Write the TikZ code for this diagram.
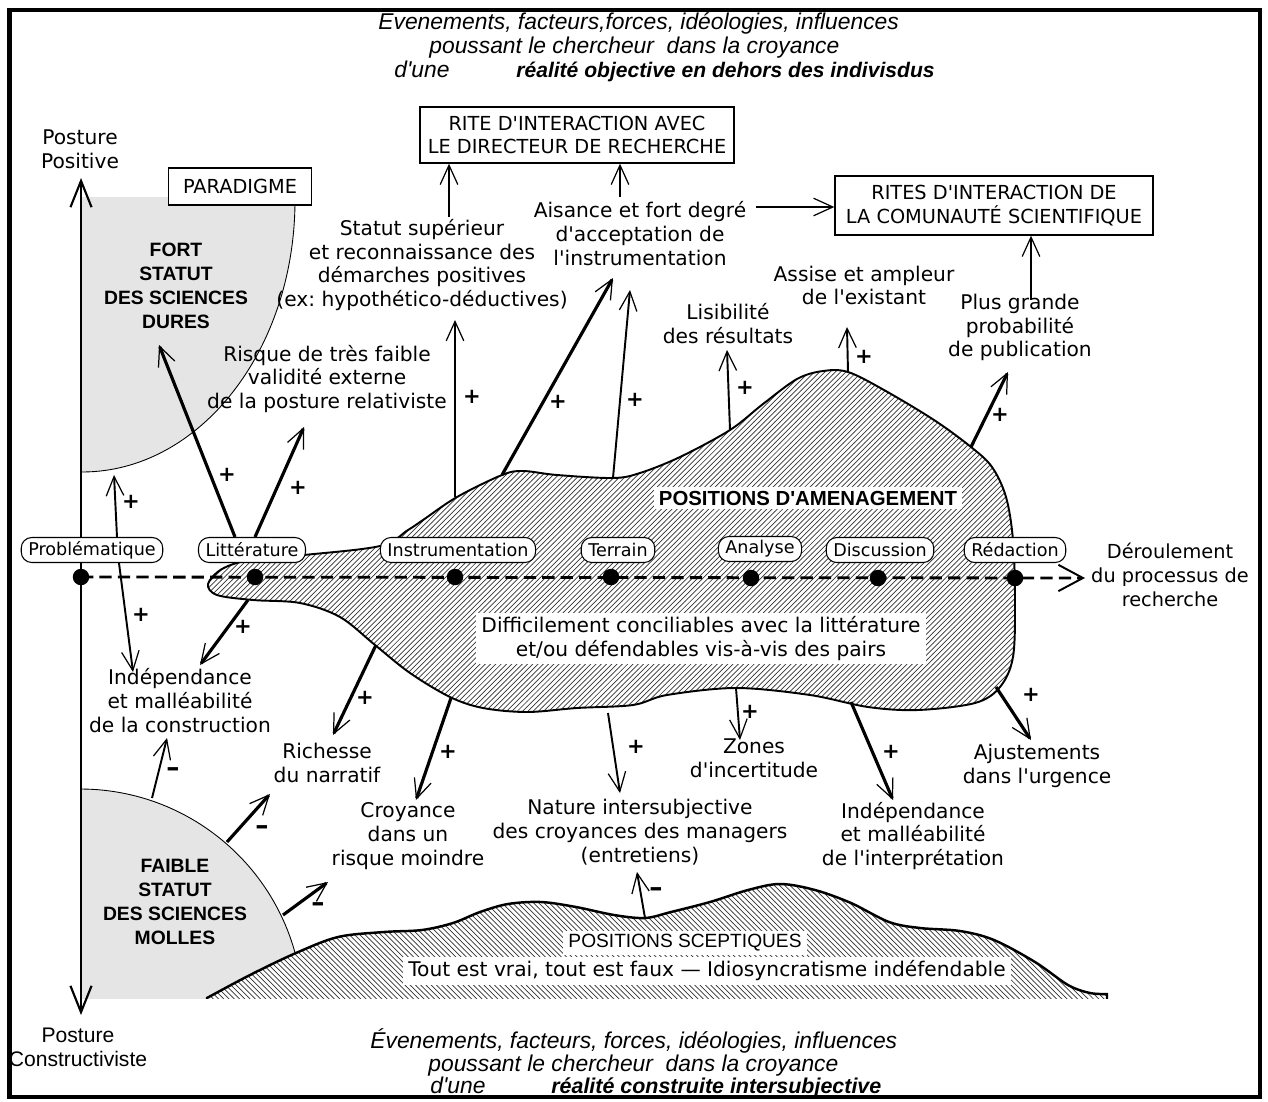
\documentclass[tikz,border=0pt]{standalone}
\usepackage{fontspec}
\setmainfont{DejaVu Sans}[Ligatures=TeXOff]
\newfontfamily\libsans{Liberation Sans}
\usepackage{tikz}
\usetikzlibrary{positioning,arrows.meta,patterns,calc}
\definecolor{gris}{gray}{0.9}
\tikzset{
    >={Straight Barb[length=11pt,width=10pt,line width=0.7pt]},
    txt/.style = {
        align=center,
        inner sep=0pt,
        font=\fontsize{11.5}{13.6}\selectfont
    },
    etape/.style = {
        draw,
        fill=white,
        rounded corners=6pt,
        line width=0.6pt,
        inner xsep=4pt,
        inner ysep=1pt,
        minimum height=0.5cm,
        font=\fontsize{10}{12}\selectfont
    },
    rite/.style = {
        draw,
        fill=white,
        line width=0.8pt,
        align=center,
        inner sep=0pt,
        font=\fontsize{11}{13.6}\selectfont
    },
    fond/.style = {
        fill=white,
        inner xsep=3pt,
        inner ysep=2pt
    },
    gras/.style = {
        align=center,
        inner sep=0pt,
        font=\libsans\bfseries\fontsize{11}{13.6}\selectfont
    },
    ital/.style = {
        anchor=base west,
        inner sep=0pt,
        font=\libsans\itshape\fontsize{13}{14}\selectfont
    },
    jalon/.style = {
        circle,
        fill,
        inner sep=0pt,
        minimum size=0.33cm
    },
    sgn/.style = {
        inner sep=0pt,
        font=\bfseries\fontsize{12}{12}\selectfont
    },
    moins/.style = {
        inner sep=0pt,
        font=\bfseries\fontsize{15}{15}\selectfont
    },
    fl/.style = {->, line width=1.1pt},
    flg/.style = {->, line width=1.8pt},
    axe/.style = {
        line width=1pt,
        arrows={Straight Barb[length=15pt,width=12pt,line width=1.2pt]-Straight Barb[length=15pt,width=12pt,line width=1.2pt]}
    },
    proc/.style = {
        line width=1.6pt,
        dash pattern=on 7pt off 3.5pt,
        arrows={-Straight Barb[length=14pt,width=15pt,line width=1.1pt]}
    },
}

\begin{document}
\frenchspacing
\begin{tikzpicture}[x=0.02cm, y=-0.02cm]
    \useasboundingbox (0,0) rectangle (1268,1102);

    % zones grises
    \begin{scope}
        \clip (81,197) rectangle (400,600);
        \draw[line width=0.5pt, fill=gris] (82,200) ellipse [x radius=213, y radius=272];
    \end{scope}

    % positions d'amenagement
    \draw[line width=1.1pt, pattern=north east lines, pattern color=black!80]
        plot[smooth cycle, tension=0.55] coordinates {
        (208,584) (222,569) (250,560) (304,555) (380,546) (408,530) (423,520)
        (457,497) (502,475) (523,471) (557,475) (613,478) (640,473) (680,457)
        (730,430) (763,404) (797,379) (823,371) (848,372) (884,390) (934,420)
        (971,447) (992,467) (1006,497) (1013,540) (1015,600) (1013,657)
        (1000,687) (975,703) (918,710) (868,707) (810,695) (736,688) (667,695)
        (633,705) (577,708) (527,712) (483,708) (450,697) (410,673) (375,645)
        (340,617) (300,603) (253,600) (217,595)};

    % positions sceptiques
    \begin{scope}
        \clip (81,600) rectangle (1268,998);
        \draw[line width=0.5pt, fill=gris] (80,1012) circle [radius=223];
        \draw[line width=1.4pt, preaction={fill=white}, pattern=north west lines, pattern color=black!80]
            plot[smooth, tension=0.55] coordinates {
            (207,998) (250,975) (296,953) (338,937) (384,932) (422,930) (453,923)
            (480,912) (508,904) (541,902) (576,907) (614,915) (645,918) (671,912)
            (710,902) (748,890) (780,884) (815,890) (851,903) (889,922) (920,928)
            (960,931) (994,940) (1035,962) (1068,985) (1090,993) (1107,994)}
            -- (1107,1010) -- (207,1010) -- cycle;
    \end{scope}

    % axes
    \coordinate (axh) at (81,178);
    \coordinate (axb) at (81,1015);
    \coordinate (fin) at (1085,578);
    \draw[axe] (axb) -- (axh);

    \node[jalon] (j1) at (81,577) {};
    \node[jalon] (j2) at (255,577) {};
    \node[jalon] (j3) at (455,577) {};
    \node[jalon] (j4) at (611,577) {};
    \node[jalon] (j5) at (751,578) {};
    \node[jalon] (j6) at (878,578) {};
    \node[jalon] (j7) at (1015,578) {};
    \draw[proc] (j1.center) -- (fin);

    % etapes
    \node[etape] (pb) at (92,550) {Problématique};
    \node[etape] (litt) at (252,550) {Littérature};
    \node[etape] (instru) at (458,550) {Instrumentation};
    \node[etape] (terrain) at (618,550) {Terrain};
    \node[etape] (analyse) at (760,549) {Analyse};
    \node[etape] (discuss) at (880,550) {Discussion};
    \node[etape] (redac) at (1015,550) {Rédaction};

    % textes
    \node[ital] (haut1) at (378,30) {Evenements, facteurs,forces, idéologies, influences};
    \node[ital] (haut2) at (429,53) {poussant le chercheur\ \ dans la croyance};
    \node[ital] (haut3) at (394,77) {d'une};
    \node[ital, font=\libsans\bfseries\itshape\fontsize{12}{14}\selectfont] (haut4) at (516,77) {réalité objective en dehors des indivisdus};
    \node[ital] (bas1) at (370,1048) {Évenements, facteurs, forces, idéologies, influences};
    \node[ital] (bas2) at (428,1071) {poussant le chercheur\ \ dans la croyance};
    \node[ital] (bas3) at (430,1093) {d'une};
    \node[ital, font=\libsans\bfseries\itshape\fontsize{12.2}{14}\selectfont] (bas4) at (551,1093) {réalité construite intersubjective};

    \node[txt] (posit) at (80,149) {Posture\\Positive};
    \node[txt, font=\libsans\fontsize{12}{13.6}\selectfont] (constr) at (78,1047) {Posture\\Constructiviste};
    \node[rite, minimum width=2.86cm, minimum height=0.74cm] (paradigme) at (240,186.5) {PARADIGME};
    \node[rite, minimum width=6.28cm, minimum height=1.12cm] (rite1) at (577,135) {RITE D'INTERACTION AVEC\\LE DIRECTEUR DE RECHERCHE};
    \node[rite, minimum width=6.36cm, minimum height=1.18cm] (rite2) at (994,205.5) {RITES D'INTERACTION DE\\LA COMUNAUTÉ SCIENTIFIQUE};
    \node[gras] (dures) at (176,286) {FORT\\STATUT\\DES SCIENCES\\DURES};
    \node[gras] (molles) at (175,902) {FAIBLE\\STATUT\\DES SCIENCES\\MOLLES};

    \node[txt] (statut) at (422,265) {Statut supérieur\\et reconnaissance des\\démarches positives\\(ex: hypothético-déductives)};
    \node[txt] (aisance) at (640,233.5) {Aisance et fort degré\\d'acceptation de\\l'instrumentation};
    \node[txt] (assise) at (864,285.5) {Assise et ampleur\\de l'existant};
    \node[txt] (lisib) at (728,323.5) {Lisibilité\\des résultats};
    \node[txt] (publi) at (1020,327.5) {Plus grande\\probabilité\\de publication};
    \node[txt] (risque) at (327,379) {Risque de très faible\\validité externe\\de la posture relativiste};
    \node[txt, fond, font=\libsans\bfseries\fontsize{11.6}{13.6}\selectfont] (amenag) at (808,498) {POSITIONS D'AMENAGEMENT};
    \node[txt, fond] (diffic) at (701,638.5) {Difficilement conciliables avec la littérature\\et/ou défendables vis-à-vis des pairs};
    \node[txt, font=\fontsize{11}{13.6}\selectfont] (deroul) at (1170,575) {Déroulement\\du processus de\\recherche};

    \node[txt] (indepc) at (180,700.5) {Indépendance\\et malléabilité\\de la construction};
    \node[txt] (richesse) at (327,763) {Richesse\\du narratif};
    \node[txt] (croyance) at (408,836) {Croyance\\dans un\\risque moindre};
    \node[txt] (nature) at (640,832) {Nature intersubjective\\des croyances des managers\\(entretiens)};
    \node[txt] (zones) at (754,758.5) {Zones\\d'incertitude};
    \node[txt] (indepi) at (913,836) {Indépendance\\et malléabilité\\de l'interprétation};
    \node[txt] (ajust) at (1037,766) {Ajustements\\dans l'urgence};
    \node[txt, fond, font=\libsans\fontsize{10.9}{13.6}\selectfont] (scept) at (685,943) {POSITIONS SCEPTIQUES};
    \node[txt, fond] (toutvrai) at (707,971) {Tout est vrai, tout est faux — Idiosyncratisme indéfendable};

    % vers les rites
    \coordinate (a11) at (449,217);
    \coordinate (a12) at (620,197);
    \coordinate (a13) at (756,207);
    \coordinate (a14) at (1031,300);
    \draw[fl] (a11) -- (a11 |- rite1.south);
    \draw[fl] (a12) -- (a12 |- rite1.south);
    \draw[fl] (a13) -- (a13 -| rite2.west);
    \draw[fl] (a14) -- (a14 |- rite2.south);

    % departs
    \coordinate (b1) at (455,497);
    \coordinate (b2) at (502,475);
    \coordinate (b3) at (613,478);
    \coordinate (b4) at (730,430);
    \coordinate (b5) at (848,372);
    \coordinate (b6) at (971,447);
    \coordinate (b7) at (248,600);
    \coordinate (b8) at (376,645);
    \coordinate (b9) at (451,698);
    \coordinate (b10) at (608,713);
    \coordinate (b11) at (736,688);
    \coordinate (b12) at (851,702);
    \coordinate (b13) at (996,687);
    \coordinate (g1) at (152,798);
    \coordinate (g2) at (227,842);
    \coordinate (g3) at (283,915);
    \coordinate (g4) at (645,918);

    % pointes
    \coordinate (t1) at (114,475);
    \coordinate (t2) at (133,672);
    \coordinate (t3) at (159,345);
    \coordinate (t4) at (304,427);
    \coordinate (t5) at (455,320);
    \coordinate (t6) at (613,278);
    \coordinate (t7) at (630,290);
    \coordinate (t8) at (727,350);
    \coordinate (t9) at (847,327);
    \coordinate (t10) at (1008,372);
    \coordinate (t11) at (200,665);
    \coordinate (t12) at (333,735);
    \coordinate (t13) at (416,800);
    \coordinate (t14) at (620,793);
    \coordinate (t15) at (740,740);
    \coordinate (t16) at (893,800);
    \coordinate (t17) at (1031,740);
    \coordinate (t18) at (167,738);
    \coordinate (t19) at (270,794);
    \coordinate (t20) at (328,882);
    \coordinate (t21) at (637,872);

    \draw[fl] ([xshift=0.5cm]pb.north) -- (t1);
    \draw[fl] ([xshift=0.54cm]pb.south) -- (t2);
    \draw[flg] ([xshift=-0.34cm]litt.north) -- (t3);
    \draw[flg] ([xshift=0.06cm]litt.north) -- (t4);
    \draw[fl] (b1) -- (t5);
    \draw[flg] (b2) -- (t6);
    \draw[fl] (b3) -- (t7);
    \draw[fl] (b4) -- (t8);
    \draw[fl] (b5) -- (t9);
    \draw[flg] (b6) -- (t10);
    \draw[flg] (b7) -- (t11);
    \draw[flg] (b8) -- (t12);
    \draw[flg] (b9) -- (t13);
    \draw[fl] (b10) -- (t14);
    \draw[fl] (b11) -- (t15);
    \draw[flg] (b12) -- (t16);
    \draw[flg] (b13) -- (t17);
    \draw[fl] (g1) -- (t18);
    \draw[flg] (g2) -- (t19);
    \draw[flg] (g3) -- (t20);
    \draw[fl] (g4) -- (t21);

    % signes
    \node[sgn] (s1) at (131,502) {+};
    \node[sgn] (s2) at (141,615) {+};
    \node[sgn] (s3) at (227,475) {+};
    \node[sgn] (s4) at (298,488) {+};
    \node[sgn] (s5) at (472,397) {+};
    \node[sgn] (s6) at (558,402) {+};
    \node[sgn] (s7) at (635,400) {+};
    \node[sgn] (s8) at (745,388) {+};
    \node[sgn] (s9) at (864,357) {+};
    \node[sgn] (s10) at (1000,415) {+};
    \node[sgn] (s11) at (243,627) {+};
    \node[sgn] (s12) at (365,698) {+};
    \node[sgn] (s13) at (448,752) {+};
    \node[sgn] (s14) at (636,747) {+};
    \node[sgn] (s15) at (750,712) {+};
    \node[sgn] (s16) at (891,752) {+};
    \node[sgn] (s17) at (1031,695) {+};
    \node[moins] (s18) at (173,772) {–};
    \node[moins] (s19) at (262,830) {–};
    \node[moins] (s20) at (318,907) {–};
    \node[moins] (s21) at (656,892) {–};

    % cadre
    \draw[line width=2.8pt] (9.5,10) rectangle (1260,1097);
\end{tikzpicture}
\end{document}
